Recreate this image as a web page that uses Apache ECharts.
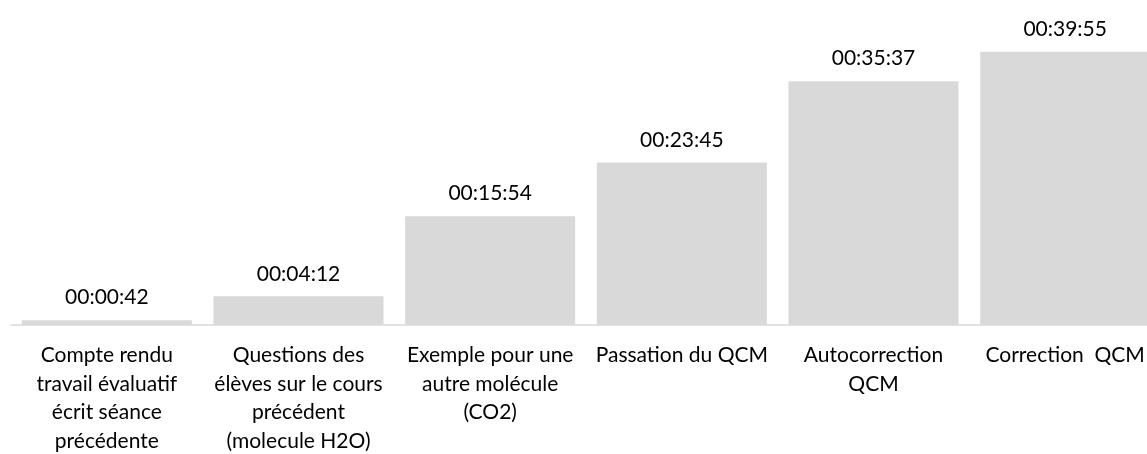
<!DOCTYPE html>
<html>
<head>
<meta charset="utf-8">
<script src="https://cdn.jsdelivr.net/npm/echarts@6/dist/echarts.min.js"></script>
<style>
  html, body { margin: 0; padding: 0; background: #fff; }
  #chart { width: 1147px; height: 454px; }
</style>
</head>
<body>
<div id="chart"></div>
<script>
// Activity names (line breaks as shown under each bar)
const categories = [
  'Compte rendu\ntravail évaluatif\nécrit séance\nprécédente',
  'Questions des\nélèves sur le cours\nprécédent\n(molecule H2O)',
  'Exemple pour une\nautre molécule\n(CO2)',
  'Passation du QCM',
  'Autocorrection\nQCM',
  'Correction  QCM'
];

// Cumulative elapsed time, in seconds
const elapsedSeconds = [42, 252, 954, 1425, 2137, 2395];

function hms(sec) {
  const h = Math.floor(sec / 3600);
  const m = Math.floor((sec % 3600) / 60);
  const s = sec % 60;
  const p = n => String(n).padStart(2, '0');
  return p(h) + ':' + p(m) + ':' + p(s);
}

const FONT = 'Lato';
const chart = echarts.init(document.getElementById('chart'), null, { renderer: 'canvas' });

chart.setOption({
  animation: false,
  backgroundColor: '#ffffff',
  grid: { left: 11, width: 1150, top: 17, height: 308, outerBoundsMode: 'none', containLabel: false },
  xAxis: {
    type: 'category',
    data: categories,
    axisLine: { show: true, lineStyle: { color: '#d9d9d9', width: 1.5 } },
    axisTick: { show: false },
    axisLabel: {
      interval: 0,
      margin: 16,
      color: '#000000',
      fontFamily: FONT,
      fontSize: 21,
      lineHeight: 28.5,
      hideOverlap: false
    }
  },
  yAxis: {
    type: 'value',
    min: 0,
    max: 2700,
    show: false,
    splitLine: { show: false }
  },
  series: [{
    type: 'bar',
    data: elapsedSeconds,
    barWidth: 170,
    itemStyle: { color: '#d9d9d9' },
    label: {
      show: true,
      position: 'top',
      distance: 12,
      color: '#000000',
      fontFamily: FONT,
      fontSize: 21,
      formatter: p => hms(p.value)
    }
  }]
});
</script>
</body>
</html>
